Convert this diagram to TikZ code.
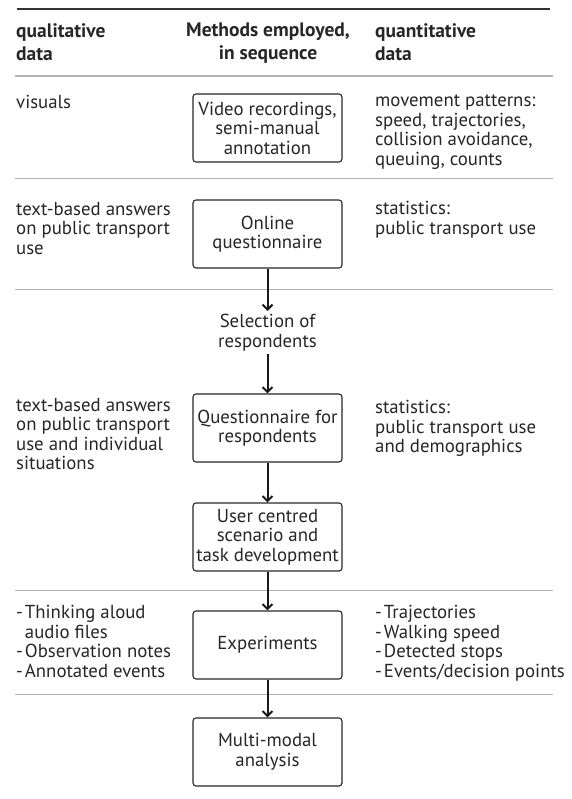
\documentclass[tikz,border=0pt]{standalone}
\usepackage{fontspec}
\setmainfont{PT Sans}
\usetikzlibrary{positioning,arrows.meta}

\begin{document}
\begin{tikzpicture}[x=1pt,y=-1pt,->,>={Straight Barb[length=5pt,width=10pt]},
  every node/.style={text=black!85, font=\fontsize{18.8}{19.5}\selectfont},
  method/.style={draw=black!85, rounded corners=3pt, line width=1.1pt, minimum width=149pt,
    minimum height=68pt, inner sep=0pt, align=center},
  sidetext/.style={anchor=north west, inner sep=0pt, align=left},
  headtext/.style={inner sep=0pt, font=\fontsize{19.5}{23}\selectfont\bfseries},
  rule/.style={-, draw=black!30, line width=1pt},
  flow/.style={draw=black!90, line width=2pt}]
  \useasboundingbox (0,0) rectangle (571,799);
  % rules
  \draw[rule, draw=black!80, line width=1.2pt] (17,9) -- (550,9);
  \draw[rule, line width=1.5pt] (15,76) -- (553,76);
  \foreach \ry in {179,289,590,694}
    \draw[rule] (15,\ry) -- (553,\ry);
  % headers
  \node (hqual) [headtext, anchor=north west, align=left] at (16,23) {qualitative\\data};
  \node (hmeth) [headtext, anchor=north, align=center] at (268,23) {Methods employed,\\in sequence};
  \node (hquan) [headtext, anchor=north west, align=left] at (375,23) {quantitative\\data};
  % methods
  \node (video) [method] at (267.5,128) {Video recordings,\\semi-manual\\annotation};
  \node (online) [method] at (267.5,234) {Online\\questionnaire};
  \node (select) [inner sep=3pt, align=center, anchor=north] at (267.5,311) {Selection of\\respondents};
  \node (quest) [method] at (267.5,428) {Questionnaire for\\respondents};
  \node (scen) [method] at (267.5,537) {User centred\\scenario and\\task development};
  \node (exper) [method] at (267.5,645) {Experiments};
  \node (multi) [method] at (267.5,752) {Multi-modal\\analysis};
  % qualitative data
  \node (qlvideo) [sidetext] at (16,95) {visuals};
  \node (qlonline) [sidetext] at (16,202) {text-based answers\\on public transport\\use};
  \node (qlquest) [sidetext] at (16,398) {text-based answers\\on public transport\\use and individual\\situations};
  \node (qlexper) [sidetext] at (16,605) {-\kern2pt Thinking aloud\\\phantom{-\kern2pt}audio files\\-\kern2pt Observation notes\\-\kern2pt Annotated events};
  % quantitative data
  \node (qnvideo) [sidetext] at (375,95) {movement patterns:\\speed, trajectories,\\collision avoidance,\\queuing, counts};
  \node (qnonline) [sidetext] at (375,201) {statistics:\\public transport use};
  \node (qnquest) [sidetext] at (375,400) {statistics:\\public transport use\\and demographics};
  \node (qnexper) [sidetext] at (375,605) {-\kern2pt Trajectories\\-\kern2pt Walking speed\\-\kern2pt Detected stops\\-\kern2pt Events/decision points};
  \path
    (online) edge[flow] (select)
    (select) edge[flow] (quest)
    (quest) edge[flow] (scen)
    (scen) edge[flow] (exper)
    (exper) edge[flow] (multi);
\end{tikzpicture}
\end{document}
